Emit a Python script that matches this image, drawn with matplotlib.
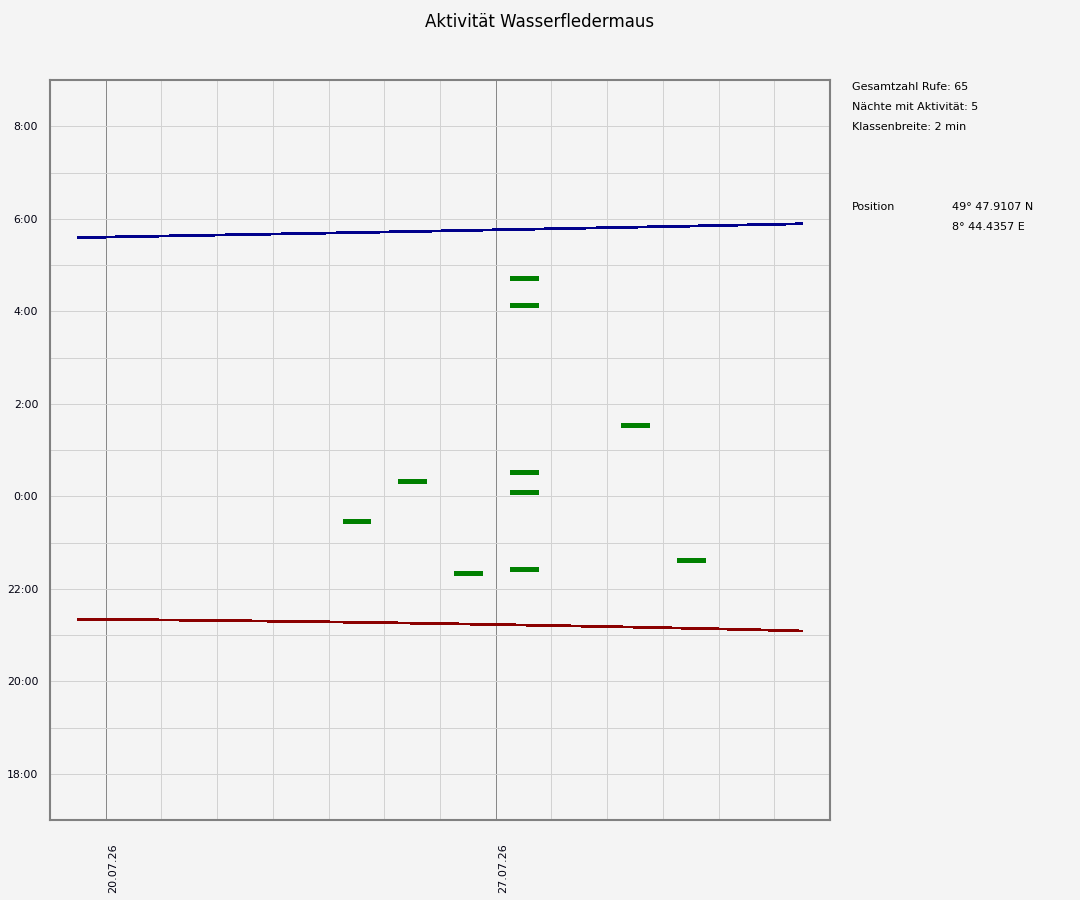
import datetime as dt
import matplotlib
matplotlib.use("Agg")
import matplotlib.pyplot as plt
import matplotlib.dates as mdates
import matplotlib.transforms as mtransforms
from matplotlib.ticker import FixedLocator, MultipleLocator, FuncFormatter

# ---------------- data ----------------
title = "Aktivität Wasserfledermaus"

nights = ["19.07.2026", "20.07.2026", "21.07.2026", "22.07.2026", "23.07.2026",
          "24.07.2026", "25.07.2026", "26.07.2026", "27.07.2026", "28.07.2026",
          "29.07.2026", "30.07.2026", "31.07.2026", "01.08.2026"]
sunset = ["21:20:30", "21:19:54", "21:19:12", "21:18:24", "21:17:30", "21:16:30",
          "21:15:24", "21:14:12", "21:12:54", "21:11:36", "21:10:12", "21:08:42",
          "21:07:06", "21:05:12"]
sunrise = ["05:35:30", "05:36:54", "05:38:12", "05:39:30", "05:40:48", "05:42:06",
           "05:43:30", "05:44:54", "05:46:18", "05:47:42", "05:49:06", "05:50:30",
           "05:52:00", "05:53:30"]

activity_nights = ["24.07.2026", "25.07.2026", "26.07.2026", "27.07.2026", "27.07.2026",
                   "27.07.2026", "27.07.2026", "27.07.2026", "29.07.2026", "30.07.2026"]
activity_times = ["23:28", "00:20", "22:20", "04:43", "04:08",
                  "00:32", "00:05", "22:25", "01:32", "22:37"]

x_start, x_end = "19.07.2026", "02.08.2026"
week_dates = ["20.07.2026", "27.07.2026"]
y_ticks_h = [-6, -4, -2, 0, 2, 4, 6, 8]

info_lines = ["Gesamtzahl Rufe: 65", "Nächte mit Aktivität: 5", "Klassenbreite: 2 min"]
pos_label = "Position"
pos_values = ["49° 47.9107 N", "8° 44.4357 E"]


# ---------------- helpers ----------------
def dnum(s):
    return mdates.date2num(dt.datetime.strptime(s, "%d.%m.%Y"))


def hours(t):
    parts = [int(p) for p in t.split(":")]
    while len(parts) < 3:
        parts.append(0)
    h = parts[0] + parts[1] / 60 + parts[2] / 3600
    return h - 24 if h >= 12 else h


# ---------------- figure ----------------
bg = "#f4f4f4"
fig = plt.figure(figsize=(10.8, 9.0), dpi=100, facecolor=bg)
ax = fig.add_axes([50 / 1080, 1 - 820 / 900, 780 / 1080, 740 / 900], facecolor=bg)

# sunset / sunrise lines
xs = [dnum(n) + 0.5 for n in nights]
ax.plot(xs, [hours(t) for t in sunrise], color="#00008b", lw=1.3,
        antialiased=False, solid_capstyle="butt", zorder=3)
ax.plot(xs, [hours(t) for t in sunset], color="#8b0000", lw=1.3,
        antialiased=False, solid_capstyle="butt", zorder=3)

# activity bars
ax_x = [dnum(n) for n in activity_nights]
ax_y = [hours(t) for t in activity_times]
ax.hlines(ax_y, [x + 0.25 for x in ax_x], [x + 0.75 for x in ax_x],
          color="#008000", lw=2.2, antialiased=False, zorder=4)

# limits
ax.set_xlim(dnum(x_start), dnum(x_end))
ax.set_ylim(-7, 9)

# ticks
ax.xaxis.set_major_locator(FixedLocator([dnum(d) for d in week_dates]))
ax.xaxis.set_minor_locator(mdates.DayLocator())
ax.xaxis.set_major_formatter(mdates.DateFormatter("%d.%m.%y"))
ax.yaxis.set_major_locator(FixedLocator(y_ticks_h))
ax.yaxis.set_minor_locator(MultipleLocator(1))
ax.yaxis.set_major_formatter(FuncFormatter(lambda v, p: "%d:00" % (int(round(v)) % 24)))

ax.tick_params(axis="both", which="both", length=0)
ax.tick_params(axis="y", labelsize=7.8, pad=8.5, labelcolor="#000010")
ax.tick_params(axis="x", labelsize=8, pad=16.5, labelrotation=90, labelcolor="#000010")

# grid
ax.set_axisbelow(True)
ax.grid(axis="y", which="both", color="#d2d2d2", lw=0.6, antialiased=False)
ax.grid(axis="x", which="minor", color="#d2d2d2", lw=0.6, antialiased=False)
ax.grid(axis="x", which="major", color="#888888", lw=0.6, antialiased=False)

for sp in ax.spines.values():
    sp.set_color("#808080")
    sp.set_linewidth(1.5)

fig.canvas.draw()
offset = mtransforms.ScaledTranslation(7 / 100, 0, fig.dpi_scale_trans)
for lab in ax.get_xticklabels():
    lab.set_transform(lab.get_transform() + offset)

# title
fig.text(540 / 1080, 1 - 22 / 900, title, ha="center", va="center",
         fontsize=12, color="#000000")

# info panel
for i, s in enumerate(info_lines):
    fig.text(852 / 1080, 1 - (87 + 20 * i) / 900, s, ha="left", va="center",
             fontsize=8, color="#000000")
fig.text(852 / 1080, 1 - 207 / 900, pos_label, ha="left", va="center",
         fontsize=8, color="#000000")
for i, s in enumerate(pos_values):
    fig.text(952 / 1080, 1 - (207 + 20 * i) / 900, s, ha="left", va="center",
             fontsize=8, color="#000000")

fig.savefig("out.png", dpi=100, facecolor=bg)
